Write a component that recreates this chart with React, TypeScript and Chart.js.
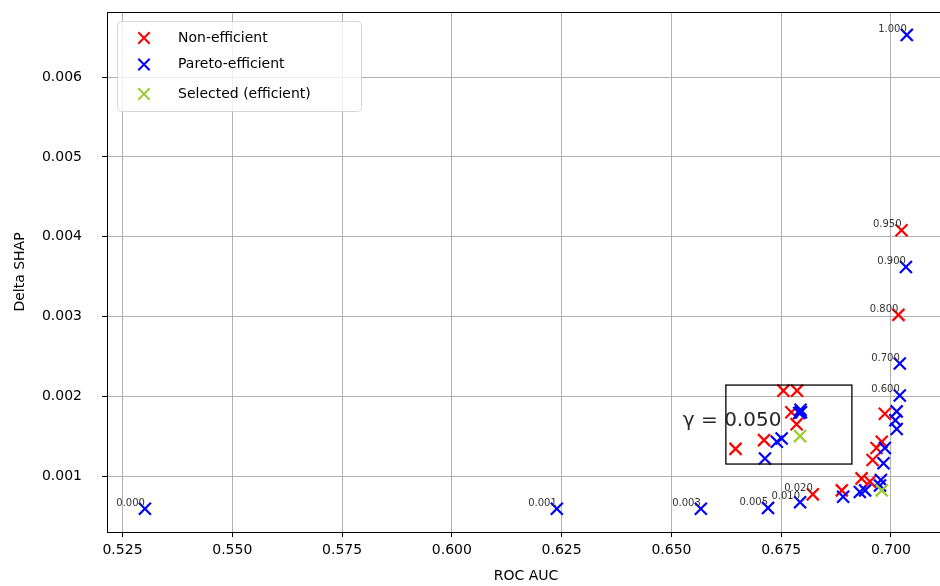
import React, { useEffect, useRef } from "react";
import { Chart, registerables } from "chart.js";

Chart.register(...registerables);

const FONT = "'DejaVu Sans', 'Noto Sans', sans-serif";

// Gamma sweep points that carry a γ annotation
const gammaValues = ["0.000", "0.001", "0.003", "0.005", "0.010", "0.020", "0.600", "0.700", "0.800", "0.900", "0.950", "1.000"];
const gammaAuc = [0.5301, 0.6239, 0.6567, 0.672, 0.6793, 0.6822, 0.702, 0.702, 0.7017, 0.7034, 0.7024, 0.7036];
const gammaShap = [0.00059, 0.00059, 0.00059, 0.0006, 0.00067, 0.00077, 0.00201, 0.00241, 0.00302, 0.00362, 0.00408, 0.00653];
const gammaEfficient = [true, true, true, true, true, false, true, true, false, true, false, true];

// Remaining non-efficient runs
const nonEffAuc = [0.6755, 0.6786, 0.6773, 0.6785, 0.6711, 0.6646, 0.6986, 0.6979, 0.6967, 0.6958, 0.6933, 0.6952, 0.6888];
const nonEffShap = [0.00207, 0.00207, 0.0018, 0.00165, 0.00145, 0.00134, 0.00178, 0.00143, 0.00135, 0.0012, 0.00097, 0.00093, 0.00082];

// Remaining Pareto-efficient runs
const paretoAuc = [0.6794, 0.6791, 0.6795, 0.6751, 0.674, 0.6713, 0.7013, 0.701, 0.7013, 0.6986, 0.6983, 0.6977, 0.6975, 0.6941, 0.6929, 0.6891];
const paretoShap = [0.00183, 0.00179, 0.0018, 0.00147, 0.00143, 0.00122, 0.00181, 0.0017, 0.00159, 0.00135, 0.00116, 0.00095, 0.00088, 0.00082, 0.0008, 0.00074];

// Selected efficient runs
const selectedAuc = [0.6793, 0.6979];
const selectedShap = [0.0015, 0.00082];

// Highlighted selection: γ text and its box (data units)
const selectedGammaText = "γ = 0.050";
const selectedTextAt = [0.6526, 0.00169];
const selectedBoxX = [0.6624, 0.6911];
const selectedBoxY = [0.00115, 0.00214];

const xTicks = [0.525, 0.55, 0.575, 0.6, 0.625, 0.65, 0.675, 0.7];
const yTicks = [0.001, 0.002, 0.003, 0.004, 0.005, 0.006];
const xRange = [0.52147, 0.7123];
const yRange = [0.000298, 0.006817];

const RED = "#ff0000";
const BLUE = "#0000ff";
const GREEN = "#9acd32";

const legendItems = [
  { label: "Non-efficient", color: RED },
  { label: "Pareto-efficient", color: BLUE },
  { label: "Selected (efficient)", color: GREEN },
];

function toPoints(xs: number[], ys: number[]) {
  return xs.map((v, i) => ({ x: v, y: ys[i] }));
}

function drawX(ctx: CanvasRenderingContext2D, cx: number, cy: number, color: string) {
  const h = 5.7;
  ctx.save();
  ctx.strokeStyle = color;
  ctx.lineWidth = 2;
  ctx.beginPath();
  ctx.moveTo(cx - h, cy - h);
  ctx.lineTo(cx + h, cy + h);
  ctx.moveTo(cx - h, cy + h);
  ctx.lineTo(cx + h, cy - h);
  ctx.stroke();
  ctx.restore();
}

const overlayPlugin = {
  id: "overlay",
  afterDatasetsDraw(chart: any) {
    const { ctx, chartArea, scales } = chart;
    const x = scales.x;
    const y = scales.y;
    ctx.save();

    // frame
    ctx.strokeStyle = "#000";
    ctx.lineWidth = 1;
    ctx.strokeRect(
      Math.round(chartArea.left) + 0.5,
      Math.round(chartArea.top) + 0.5,
      Math.round(chartArea.right - chartArea.left),
      Math.round(chartArea.bottom - chartArea.top)
    );

    // γ annotations next to points
    ctx.font = `10px ${FONT}`;
    ctx.fillStyle = "#333";
    ctx.textAlign = "right";
    ctx.textBaseline = "alphabetic";
    gammaValues.forEach((g, i) => {
      const px = x.getPixelForValue(gammaAuc[i]);
      const py = y.getPixelForValue(gammaShap[i]);
      ctx.fillText(g, px, py - 3);
    });

    // selection box
    const bx1 = x.getPixelForValue(selectedBoxX[0]);
    const bx2 = x.getPixelForValue(selectedBoxX[1]);
    const by1 = y.getPixelForValue(selectedBoxY[1]);
    const by2 = y.getPixelForValue(selectedBoxY[0]);
    ctx.strokeStyle = "#000";
    ctx.lineWidth = 1.3;
    ctx.strokeRect(bx1, by1, bx2 - bx1, by2 - by1);

    ctx.font = `20px ${FONT}`;
    ctx.fillStyle = "#262626";
    ctx.textAlign = "left";
    ctx.textBaseline = "middle";
    ctx.fillText(
      selectedGammaText,
      x.getPixelForValue(selectedTextAt[0]),
      y.getPixelForValue(selectedTextAt[1])
    );
    ctx.restore();
  },
  afterDraw(chart: any) {
    const { ctx, chartArea } = chart;
    ctx.save();
    const lx = chartArea.left + 10.5;
    const ly = chartArea.top + 9.5;
    const lw = 244;
    const lh = 90;
    const r = 4;
    ctx.beginPath();
    ctx.moveTo(lx + r, ly);
    ctx.lineTo(lx + lw - r, ly);
    ctx.quadraticCurveTo(lx + lw, ly, lx + lw, ly + r);
    ctx.lineTo(lx + lw, ly + lh - r);
    ctx.quadraticCurveTo(lx + lw, ly + lh, lx + lw - r, ly + lh);
    ctx.lineTo(lx + r, ly + lh);
    ctx.quadraticCurveTo(lx, ly + lh, lx, ly + lh - r);
    ctx.lineTo(lx, ly + r);
    ctx.quadraticCurveTo(lx, ly, lx + r, ly);
    ctx.closePath();
    ctx.fillStyle = "rgba(255,255,255,0.8)";
    ctx.fill();
    ctx.strokeStyle = "rgba(204,204,204,0.8)";
    ctx.lineWidth = 1;
    ctx.stroke();

    const rows = [26, 52.5, 82];
    ctx.font = `14px ${FONT}`;
    ctx.fillStyle = "#000";
    ctx.textAlign = "left";
    ctx.textBaseline = "middle";
    legendItems.forEach((item, i) => {
      const ry = chartArea.top + rows[i];
      drawX(ctx, chartArea.left + 37, ry, item.color);
      ctx.fillText(item.label, chartArea.left + 71, ry);
    });
    ctx.restore();
  },
};

export default function App() {
  const canvasRef = useRef<HTMLCanvasElement | null>(null);

  useEffect(() => {
    const canvas = canvasRef.current;
    if (!canvas) return;

    const nonEffPts = toPoints(nonEffAuc, nonEffShap).concat(
      gammaAuc.map((v, i) => ({ x: v, y: gammaShap[i] })).filter((_, i) => !gammaEfficient[i])
    );
    const paretoPts = toPoints(paretoAuc, paretoShap).concat(
      gammaAuc.map((v, i) => ({ x: v, y: gammaShap[i] })).filter((_, i) => gammaEfficient[i])
    );
    const selectedPts = toPoints(selectedAuc, selectedShap);

    const markerBase = {
      pointStyle: "crossRot" as const,
      pointRadius: 8.5,
      pointHoverRadius: 8.5,
      pointBorderWidth: 2.2,
      showLine: false,
    };

    const chart = new Chart(canvas, {
      type: "scatter",
      data: {
        datasets: [
          { ...markerBase, label: "Non-efficient", data: nonEffPts, borderColor: RED, backgroundColor: RED, order: 3 },
          { ...markerBase, label: "Pareto-efficient", data: paretoPts, borderColor: BLUE, backgroundColor: BLUE, order: 2 },
          { ...markerBase, label: "Selected (efficient)", data: selectedPts, borderColor: GREEN, backgroundColor: GREEN, order: 1 },
        ],
      },
      options: {
        responsive: false,
        animation: false,
        events: [],
        layout: { padding: { top: 12, right: 15, left: 0, bottom: 0 } },
        plugins: {
          legend: { display: false },
          tooltip: { enabled: false },
        },
        scales: {
          x: {
            type: "linear",
            min: xRange[0],
            max: xRange[1],
            afterBuildTicks: (s: any) => {
              s.ticks = xTicks.map((v) => ({ value: v }));
            },
            afterFit: (s: any) => {
              s.height = 68;
              s.paddingLeft = 0;
              s.paddingRight = 0;
            },
            ticks: {
              autoSkip: false,
              maxRotation: 0,
              padding: 5,
              color: "#000",
              font: { family: FONT, size: 14 },
              callback: (v: any) => Number(v).toFixed(3),
            },
            grid: {
              color: "#b0b0b0",
              lineWidth: 1,
              drawTicks: true,
              tickLength: 5,
              tickColor: "#000",
              tickWidth: 1,
            },
            border: { display: false },
            title: {
              display: true,
              text: "ROC AUC",
              color: "#000",
              font: { family: FONT, size: 14 },
              padding: { top: 0, bottom: 15 },
            },
          },
          y: {
            type: "linear",
            min: yRange[0],
            max: yRange[1],
            afterBuildTicks: (s: any) => {
              s.ticks = yTicks.map((v) => ({ value: v }));
            },
            afterFit: (s: any) => {
              s.width = 107;
              s.paddingTop = 0;
              s.paddingBottom = 0;
            },
            ticks: {
              autoSkip: false,
              padding: 20,
              color: "#000",
              font: { family: FONT, size: 14 },
              callback: (v: any) => Number(v).toFixed(3),
            },
            grid: {
              color: "#b0b0b0",
              lineWidth: 1,
              drawTicks: true,
              tickLength: 5,
              tickColor: "#000",
              tickWidth: 1,
            },
            border: { display: false },
            title: {
              display: true,
              text: "Delta SHAP",
              color: "#000",
              font: { family: FONT, size: 14 },
              padding: { top: 12, bottom: 0 },
            },
          },
        },
      },
      plugins: [overlayPlugin],
    });

    return () => chart.destroy();
  }, []);

  return (
    <div style={{ position: "fixed", left: 0, top: 0, width: 940, height: 586, overflow: "hidden", background: "#fff" }}>
      <canvas ref={canvasRef} width={960} height={600} style={{ position: "absolute", left: 0, top: 0 }} />
    </div>
  );
}
